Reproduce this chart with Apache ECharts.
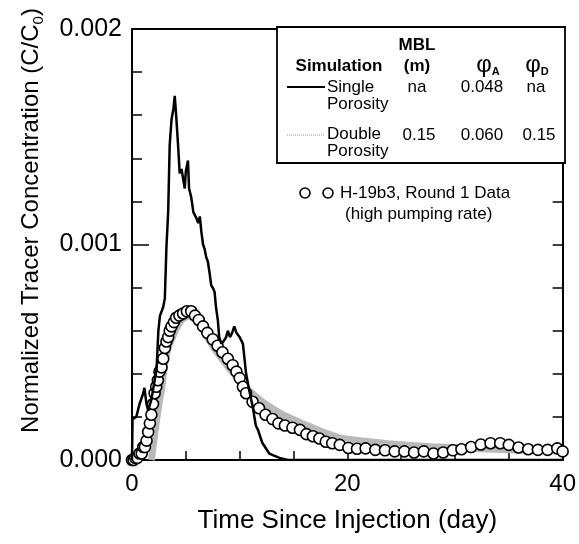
<!DOCTYPE html>
<html>
<head>
<meta charset="utf-8">
<title>H-19b3 tracer test</title>
<script src="https://cdn.jsdelivr.net/npm/echarts@6/dist/echarts.min.js"></script>
<style>
html, body { margin: 0; padding: 0; background: #fff; }
#main { width: 579px; height: 544px; }
</style>
</head>
<body>
<div id="main"></div>
<script>
// single porosity simulation (black line)
var singleDays = [0, 0.05, 0.4, 0.7, 1.05, 1.15, 1.35, 1.5, 1.8, 2.0, 2.28, 2.45, 2.6, 2.9, 3.05, 3.2, 3.36, 3.5, 3.67, 3.85,
	3.97, 4.1, 4.28, 4.43, 4.6, 4.7, 4.9, 5.0, 5.2, 5.3, 5.5, 5.7, 6.0, 6.15, 6.3, 6.44, 6.6, 6.74, 6.9, 7.05,
	7.2, 7.36, 7.5, 7.67, 7.8, 7.97, 8.1, 8.3, 8.5, 8.74, 8.9, 9.1, 9.3, 9.5, 9.7, 10.0, 10.3, 10.6, 10.9, 11.2,
	11.5, 11.7, 12.1, 12.75, 13.7, 14.5, 40];
var singleConc = [0, 0.00019, 0.0002, 0.00026, 0.00031, 0.000335, 0.00026, 0.00023, 0.00028, 0.00034, 0.00042, 0.0006, 0.00067, 0.00071, 0.00075, 0.00099, 0.00115, 0.00146, 0.00158, 0.00163,
	0.00169, 0.0016, 0.00146, 0.00133, 0.00135, 0.00132, 0.00126, 0.00134, 0.00139, 0.00126, 0.00122, 0.00115, 0.00112, 0.0011, 0.00113, 0.00106, 0.001, 0.00098, 0.00094, 0.00092,
	0.00087, 0.00081, 0.0008, 0.00078, 0.00071, 0.00065, 0.00057, 0.00054, 0.00055, 0.00057, 0.0006, 0.00057, 0.00059, 0.00062, 0.00059, 0.00057, 0.00054, 0.0004, 0.00032, 0.00025,
	0.00016, 0.00014, 0.00008, 0.00003, 0.00001, 0, 0];

// double porosity simulation (grey band)
var doubleDays = [1.8, 2.0, 2.28, 2.5, 2.74, 3.05, 3.3, 3.67, 4.1, 4.6, 5.2, 5.8, 6.4, 7.1, 7.9, 8.8, 9.8, 10.9, 12.1, 13.0,
	14.0, 15.8, 17.7, 19.5, 21.4, 23.8, 25.6, 27.8, 30.0, 32.4, 35.0, 37.5, 40];
var doubleConc = [0, 0.00008, 0.000186, 0.00026, 0.000326, 0.00045, 0.00051, 0.00056, 0.00061, 0.00065, 0.00067, 0.00066, 0.00062, 0.00056, 0.0005, 0.00044, 0.00038, 0.00032, 0.00027, 0.00024,
	0.00021, 0.00017, 0.00013, 0.0001, 0.000088, 0.000075, 0.000068, 0.000062, 0.000058, 0.000052, 0.000048, 0.000045, 0.000042];

// H-19b3 round 1 data (open circles)
var dataDays = [0, 0.15, 0.3, 0.5, 0.7, 0.9, 1.05, 1.2, 1.35, 1.5, 1.66, 1.8, 1.95, 2.1, 2.25, 2.4, 2.55, 2.74, 2.9, 3.05,
	3.2, 3.36, 3.5, 3.67, 3.9, 4.1, 4.4, 4.74, 5.1, 5.5, 5.85, 6.2, 6.6, 7.0, 7.5, 7.95, 8.4, 8.9, 9.35, 9.7,
	10.0, 10.3, 10.6, 11.2, 11.8, 12.4, 13.05, 13.6, 14.2, 14.9, 15.6, 16.2, 16.8, 17.4, 18.0, 18.6, 19.3, 20.1, 20.9, 21.7,
	22.6, 23.5, 24.4, 25.3, 26.2, 27.1, 28.0, 28.9, 29.8, 30.6, 31.5, 32.4, 33.3, 34.2, 35.0, 35.9, 36.8, 37.7, 38.6, 39.5, 40];
var dataConc = [0, 0, 0.00001, 0.00001, 0.00003, 0.00003, 0.00006, 0.00006, 0.00009, 0.00013, 0.00017, 0.00021, 0.00026, 0.00031, 0.00034, 0.00037, 0.00041, 0.00043, 0.00047, 0.00052,
	0.00055, 0.00057, 0.0006, 0.00062, 0.00064, 0.00066, 0.00067, 0.00068, 0.00069, 0.00069, 0.00067, 0.00065, 0.00062, 0.00059, 0.00056, 0.00053, 0.0005, 0.00047, 0.00044, 0.00041,
	0.00038, 0.00034, 0.00031, 0.00027, 0.00024, 0.00021, 0.00019, 0.00017, 0.00016, 0.00015, 0.00014, 0.00012, 0.00011, 0.0001, 0.000085, 0.000078, 0.00007, 0.000056, 0.000052, 0.000054,
	0.000047, 0.000045, 0.00004, 0.00004, 0.000035, 0.00004, 0.00003, 0.000035, 0.000045, 0.00005, 0.00006, 0.000072, 0.000078, 0.000078, 0.00007, 0.000058, 0.00005, 0.000047, 0.000047, 0.000054, 0.00004];

var xTicks = [0, 20, 40];
var yTicks = [0, 0.001, 0.002];

// legend table text
var legendHead = ['Simulation', 'MBL', '(m)'];
var singleRow = ['Single\nPorosity', 'na', '0.048', 'na'];
var doubleRow = ['Double\nPorosity', '0.15', '0.060', '0.15'];
var dataLabel = ['H-19b3, Round 1 Data', '(high pumping rate)'];

function pairs(xs, ys) {
	var out = [];
	for (var i = 0; i < xs.length; i++) {
		out.push([xs[i], ys[i]]);
	}
	return out;
}

var FONT = "'Liberation Sans', Arial, Helvetica, sans-serif";

function txt(x, y, text, size, bold, align) {
	return {
		type : 'text',
		x : x,
		y : y,
		z : 100,
		style : {
			text : text,
			fontFamily : FONT,
			fontSize : size,
			fontWeight : bold ? 'bold' : 'normal',
			fill : '#000',
			align : align || 'center',
			verticalAlign : 'middle',
			lineHeight : 17
		}
	};
}

function phi(x, y, sub) {
	return {
		type : 'text',
		x : x,
		y : y,
		z : 100,
		style : {
			text : '{p|φ}{s|' + sub + '}',
			align : 'center',
			verticalAlign : 'middle',
			rich : {
				p : { fontFamily : FONT, fontSize : 24, fill : '#000', lineHeight : 24 },
				s : { fontFamily : FONT, fontSize : 11, fontWeight : 'bold', fill : '#000', verticalAlign : 'bottom', lineHeight : 18 }
			}
		}
	};
}

var myChart = echarts.init(document.getElementById('main'));

var option = {
	animation : false,
	backgroundColor : '#fff',
	textStyle : { fontFamily : FONT },
	grid : {
		left : 132,
		right : 14,
		top : 29,
		bottom : 84
	},
	xAxis : [ {
		type : 'value',
		min : xTicks[0],
		max : xTicks[xTicks.length - 1],
		interval : xTicks[1] - xTicks[0],
		name : 'Time Since Injection (day)',
		nameLocation : 'middle',
		nameGap : 48,
		nameTextStyle : { fontFamily : FONT, fontSize : 26, color : '#000', verticalAlign : 'top' },
		axisLine : { show : true, onZero : false, lineStyle : { color : '#000', width : 2 } },
		axisTick : { show : true, inside : true, length : 12, lineStyle : { color : '#000', width : 1.5 } },
		minorTick : { show : true, splitNumber : 4, length : 9, lineStyle : { color : '#000', width : 1.5 } },
		axisLabel : { color : '#000', fontSize : 24, fontFamily : FONT, margin : 12 },
		splitLine : { show : false }
	}, {
		// top frame
		type : 'value',
		position : 'top',
		min : 0,
		max : 40,
		axisLine : { show : true, onZero : false, lineStyle : { color : '#000', width : 2 } },
		axisTick : { show : false },
		axisLabel : { show : false },
		splitLine : { show : false }
	} ],
	yAxis : [ {
		type : 'value',
		min : yTicks[0],
		max : yTicks[yTicks.length - 1],
		interval : yTicks[1] - yTicks[0],
		name : 'Normalized Tracer Concentration (C/C{s|0})',
		nameLocation : 'middle',
		nameGap : 86,
		nameTextStyle : {
			fontFamily : FONT,
			fontSize : 24,
			color : '#000',
			padding : [ 0, 0, 0, 48 ],
			rich : {
				s : { fontFamily : FONT, fontSize : 15, color : '#000', verticalAlign : 'bottom', lineHeight : 30 }
			}
		},
		axisLine : { show : true, onZero : false, lineStyle : { color : '#000', width : 2 } },
		axisTick : { show : true, inside : true, length : 17, lineStyle : { color : '#000', width : 1.5 } },
		minorTick : { show : true, splitNumber : 5, length : 10, lineStyle : { color : '#000', width : 1.5 } },
		axisLabel : {
			color : '#000',
			fontSize : 25,
			fontFamily : FONT,
			margin : 10,
			formatter : function(v) {
				return v.toFixed(3);
			}
		},
		splitLine : { show : false }
	}, {
		// right frame with ticks
		type : 'value',
		position : 'right',
		min : 0,
		max : 0.002,
		interval : 0.0002,
		axisLine : { show : true, onZero : false, lineStyle : { color : '#000', width : 2 } },
		axisTick : { show : true, inside : true, length : 10, lineStyle : { color : '#000', width : 1.5 } },
		axisLabel : { show : false },
		splitLine : { show : false }
	} ],
	series : [ {
		name : 'Double Porosity',
		type : 'line',
		data : pairs(doubleDays, doubleConc),
		symbol : 'none',
		z : 2,
		lineStyle : { color : '#b9b9b9', width : 7 }
	}, {
		name : 'H-19b3, Round 1 Data',
		type : 'line',
		data : pairs(dataDays, dataConc),
		symbol : 'circle',
		symbolSize : 11,
		z : 3,
		lineStyle : { width : 0, opacity : 0 },
		itemStyle : { color : '#fff', borderColor : '#000', borderWidth : 1.6 }
	}, {
		name : 'Single Porosity',
		type : 'line',
		data : pairs(singleDays, singleConc),
		symbol : 'none',
		z : 4,
		lineStyle : { color : '#000', width : 2.5 }
	} ],
	graphic : [
		// legend table
		{
			type : 'rect',
			z : 90,
			shape : { x : 277, y : 27, width : 288, height : 136 },
			style : { fill : '#fff', stroke : '#000', lineWidth : 1.8 }
		},
		txt(417, 45, legendHead[1], 17, true),
		txt(339, 66, legendHead[0], 17, true),
		txt(417, 66, legendHead[2], 17, true),
		phi(488, 65, 'A'),
		phi(537, 65, 'D'),
		{
			type : 'line',
			z : 100,
			shape : { x1 : 287, y1 : 87, x2 : 325, y2 : 87 },
			style : { stroke : '#000', lineWidth : 2 }
		},
		txt(327, 96, singleRow[0], 17, false, 'left'),
		txt(417, 87, singleRow[1], 17),
		txt(482, 87, singleRow[2], 17),
		txt(536, 87, singleRow[3], 17),
		{
			type : 'line',
			z : 100,
			shape : { x1 : 287, y1 : 135, x2 : 325, y2 : 135 },
			style : { stroke : '#999', lineWidth : 1, lineDash : [ 1, 1 ] }
		},
		txt(327, 143, doubleRow[0], 17, false, 'left'),
		txt(419, 135, doubleRow[1], 17),
		txt(482, 135, doubleRow[2], 17),
		txt(539, 135, doubleRow[3], 17),
		// data key
		{
			type : 'circle',
			z : 100,
			shape : { cx : 305, cy : 193, r : 5 },
			style : { fill : '#fff', stroke : '#000', lineWidth : 1.6 }
		},
		{
			type : 'circle',
			z : 100,
			shape : { cx : 328, cy : 193, r : 5 },
			style : { fill : '#fff', stroke : '#000', lineWidth : 1.6 }
		},
		txt(340, 193, dataLabel[0], 17, false, 'left'),
		txt(345, 214, dataLabel[1], 17, false, 'left')
	]
};

myChart.setOption(option);
</script>
</body>
</html>
